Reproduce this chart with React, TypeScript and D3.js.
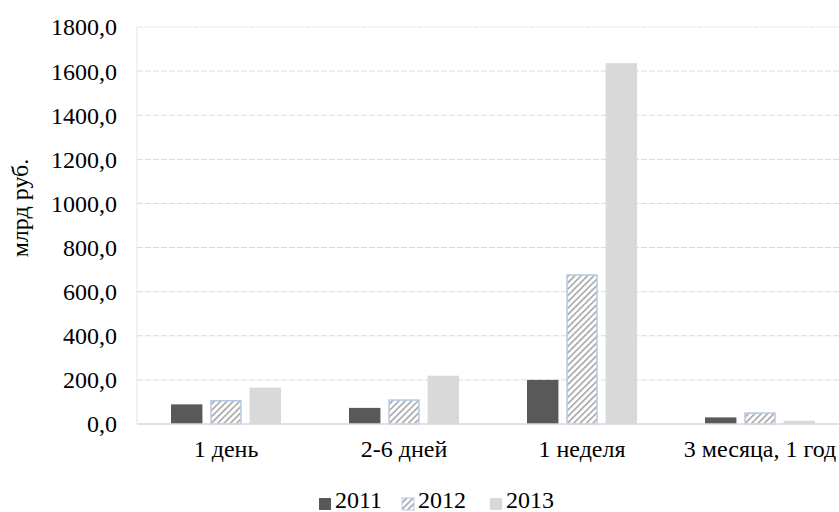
import React from "react";
import * as d3 from "d3";

const categories = ["1 день", "2-6 дней", "1 неделя", "3 месяца, 1 год"];
const seriesNames = ["2011", "2012", "2013"];
const values2011 = [89, 73, 200, 30];
const values2012 = [109, 112, 679, 53];
const values2013 = [165, 219, 1636, 15];
const yTicks = [0, 200, 400, 600, 800, 1000, 1200, 1400, 1600, 1800];

const seriesValues = [values2011, values2012, values2013];

const W = 839;
const H = 512;
const left = 137;
const right = 849;
const top = 27;
const bottom = 424;
const FONT = "'Liberation Serif', 'Times New Roman', serif";
const FS = 24;

export default function App() {
  const x0 = d3.scaleBand<string>().domain(categories).range([left, right]).padding(0);
  const x1 = d3.scaleBand<string>().domain(seriesNames).range([34, 144]).paddingInner(0.2).paddingOuter(0);
  const y = d3.scaleLinear().domain([0, 1800]).range([bottom, top]);
  const fmt = (v: number) => d3.format(".1f")(v).replace(".", ",");

  const fills = ["#595959", "url(#hatch)", "#d9d9d9"];
  const ts = { fontFamily: FONT, fontSize: FS, fill: "#000" } as React.CSSProperties;

  return (
    <svg width={W} height={H} style={{ position: "absolute", left: 0, top: 0, background: "#fff" }}>
      <defs>
        <pattern id="hatch" patternUnits="userSpaceOnUse" width="4.5" height="4.5" patternTransform="rotate(45)">
          <rect width="4.5" height="4.5" fill="#ffffff" />
          <line x1="0.8" y1="0" x2="0.8" y2="4.5" stroke="#a6a6a6" strokeWidth="1.6" />
        </pattern>
      </defs>
      {yTicks.slice(1, -1).map((t) => (
        <line key={t} x1={left} x2={W} y1={y(t)} y2={y(t)} stroke="#d9d9d9" strokeWidth={1} strokeDasharray="6,2" />
      ))}
      <line x1={left} x2={W} y1={y(1800)} y2={y(1800)} stroke="#ebe8e0" strokeWidth={1.2} strokeDasharray="6,1" />
      <line x1={left} x2={left} y1={top} y2={bottom} stroke="#ebe8e0" strokeWidth={1.2} />
      {categories.map((c, ci) => (
        <g key={c} transform={`translate(${x0(c)},0)`}>
          {seriesNames.map((s, si) => {
            const v = seriesValues[si][ci];
            const bx = x1(s)!;
            const bw = x1.bandwidth();
            return (
              <rect
                key={s}
                x={si === 1 ? bx + 0.75 : bx}
                y={y(v) + (si === 1 ? 0.75 : 0)}
                width={si === 1 ? bw - 1.5 : bw}
                height={y(0) - y(v) - (si === 1 ? 0.75 : 0)}
                fill={fills[si]}
                stroke={si === 1 ? "#b4c7e7" : "none"}
                strokeWidth={1.5}
              />
            );
          })}
        </g>
      ))}
      <line x1={left} x2={W} y1={bottom} y2={bottom} stroke="#d9d9d9" strokeWidth={1.5} />
      {yTicks.map((t) => (
        <text key={t} x={117} y={y(t)} dy="0.35em" textAnchor="end" style={ts}>
          {fmt(t)}
        </text>
      ))}
      {categories.map((c) => (
        <text key={c} x={x0(c)! + x0.bandwidth() / 2} y={457} textAnchor="middle" style={ts}>
          {c}
        </text>
      ))}
      <text transform={`translate(28,208) rotate(-90)`} textAnchor="middle" style={ts}>
        млрд руб.
      </text>
      {seriesNames.map((s, i) => {
        const sx = [319, 402, 490][i];
        return (
          <g key={s}>
            <rect x={sx} y={498} width={12} height={12} fill={fills[i]} stroke={i === 1 ? "#b4c7e7" : "none"} strokeWidth={1} />
            <text x={sx + 16} y={508} style={ts}>
              {s}
            </text>
          </g>
        );
      })}
    </svg>
  );
}
